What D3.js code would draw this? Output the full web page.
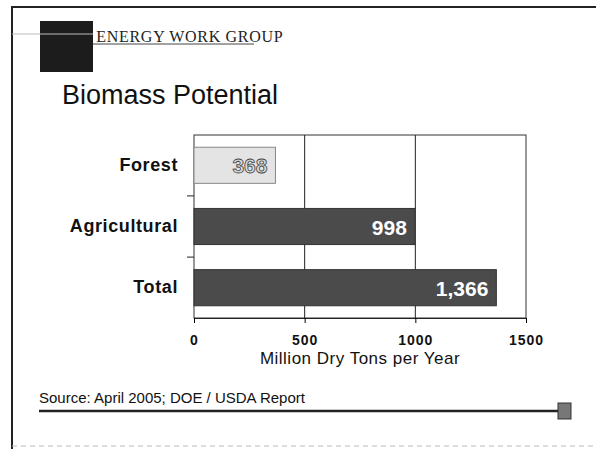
<!DOCTYPE html>
<html>
<head>
<meta charset="utf-8">
<script src="https://cdn.jsdelivr.net/npm/d3@7"></script>
<style>
  body { margin: 0; background: #fff; }
  text { font-family: Arial, "Liberation Sans", sans-serif; }
</style>
</head>
<body>
<script>
// data
var categories = ["Forest", "Agricultural", "Total"];
var values = [368, 998, 1366];
var valueLabels = ["368", "998", "1,366"];
var xTicks = [0, 500, 1000, 1500];

var width = 596, height = 449;
var plot = {left: 194, right: 526, top: 135, bottom: 318};

var svg = d3.select("body").append("svg")
    .attr("width", width)
    .attr("height", height);

// page frame
svg.append("path")
    .attr("d", "M12,449 L12,7 L596,7")
    .attr("fill", "none")
    .attr("stroke", "#222")
    .attr("stroke-width", 2);
svg.append("line")
    .attr("x1", 12).attr("x2", 596).attr("y1", 446).attr("y2", 446)
    .attr("stroke", "#bbb").attr("stroke-width", 1).attr("stroke-dasharray", "5,4");

// header
svg.append("text")
    .attr("x", 82).attr("y", 42)
    .style("font-family", "'Liberation Serif', 'DejaVu Serif', serif")
    .style("font-size", "16px")
    .style("letter-spacing", "0.7px")
    .attr("fill", "#222")
    .text("S ENERGY WORK GROUP");
svg.append("line")
    .attr("x1", 40).attr("x2", 254).attr("y1", 44).attr("y2", 44)
    .attr("stroke", "#444").attr("stroke-width", 1);
svg.append("rect")
    .attr("x", 40).attr("y", 21).attr("width", 53).attr("height", 51)
    .attr("fill", "#1c1c1c");
svg.append("line")
    .attr("x1", 12).attr("x2", 93).attr("y1", 34).attr("y2", 34)
    .attr("stroke", "#bbb").attr("stroke-width", 1);

svg.append("text")
    .attr("x", 62).attr("y", 104)
    .style("font-size", "27px")
    .attr("fill", "#111")
    .text("Biomass Potential");

// scales
var x = d3.scaleLinear().domain([0, 1500]).range([plot.left, plot.right]);
var y = d3.scaleBand().domain(categories).range([plot.top, plot.bottom]).paddingInner(0.41).paddingOuter(0.2);

// plot box + gridlines
svg.append("rect")
    .attr("x", plot.left).attr("y", plot.top)
    .attr("width", plot.right - plot.left).attr("height", plot.bottom - plot.top)
    .attr("fill", "none").attr("stroke", "#333").attr("stroke-width", 1);

svg.selectAll(".grid")
    .data(xTicks.slice(1, 3))
    .enter().append("line")
    .attr("x1", function(d) { return x(d); })
    .attr("x2", function(d) { return x(d); })
    .attr("y1", plot.top).attr("y2", plot.bottom)
    .attr("stroke", "#222").attr("stroke-width", 1);

// bars
svg.selectAll(".bar")
    .data(values)
    .enter().append("rect")
    .attr("x", x(0))
    .attr("y", function(d, i) { return y(categories[i]); })
    .attr("width", function(d) { return x(d) - x(0); })
    .attr("height", y.bandwidth())
    .attr("fill", function(d, i) { return i == 0 ? "#e4e4e4" : "#4b4b4b"; })
    .attr("stroke", function(d, i) { return i == 0 ? "#888" : "#333"; })
    .attr("stroke-width", 1);

// value labels
svg.selectAll(".val")
    .data(values)
    .enter().append("text")
    .attr("x", function(d) { return x(d) - 8; })
    .attr("y", function(d, i) { return y(categories[i]) + y.bandwidth() / 2 + 8; })
    .attr("text-anchor", "end")
    .style("font-size", "21px")
    .style("font-weight", "bold")
    .attr("fill", function(d, i) { return i == 0 ? "#d8d8d8" : "#fff"; })
    .attr("stroke", function(d, i) { return i == 0 ? "#444" : "none"; })
    .attr("stroke-width", 0.8)
    .text(function(d, i) { return valueLabels[i]; });

// axes
var xAxis = svg.append("g")
    .attr("transform", "translate(0," + plot.bottom + ")")
    .call(d3.axisBottom(x).tickValues(xTicks).tickFormat(d3.format("d")).tickSize(5).tickPadding(12));
xAxis.select(".domain").attr("stroke", "#222");
xAxis.selectAll("text")
    .style("font-size", "14px")
    .style("font-weight", "bold")
    .style("letter-spacing", "1px")
    .attr("fill", "#111");

var yAxis = svg.append("g")
    .attr("transform", "translate(" + plot.left + ",0)")
    .call(d3.axisLeft(y).tickSize(0).tickPadding(16));
yAxis.select(".domain").remove();
yAxis.selectAll("text")
    .style("font-size", "18px")
    .style("font-weight", "bold")
    .style("letter-spacing", "0.6px")
    .attr("fill", "#111");

// category separators on y axis
svg.selectAll(".ysep")
    .data(categories.slice(1))
    .enter().append("line")
    .attr("x1", plot.left - 7).attr("x2", plot.left)
    .attr("y1", function(d) { return y(d) - y.step() * y.paddingInner() / 2; })
    .attr("y2", function(d) { return y(d) - y.step() * y.paddingInner() / 2; })
    .attr("stroke", "#222");

svg.append("text")
    .attr("x", x(750)).attr("y", 364)
    .attr("text-anchor", "middle")
    .style("font-size", "17px")
    .style("letter-spacing", "0.5px")
    .attr("fill", "#111")
    .text("Million Dry Tons per Year");

// source footer
svg.append("text")
    .attr("x", 39).attr("y", 403)
    .style("font-size", "15px")
    .attr("fill", "#111")
    .text("Source: April 2005; DOE / USDA Report");
svg.append("line")
    .attr("x1", 39).attr("x2", 558).attr("y1", 411).attr("y2", 411)
    .attr("stroke", "#222").attr("stroke-width", 2.5);
svg.append("rect")
    .attr("x", 558).attr("y", 403).attr("width", 13).attr("height", 16)
    .attr("fill", "#777").attr("stroke", "#333");
</script>
</body>
</html>
